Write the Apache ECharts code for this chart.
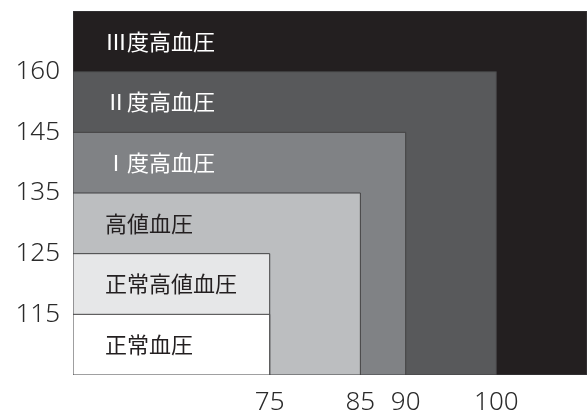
<!DOCTYPE html>
<html>
<head>
<meta charset="utf-8">
<script src="https://cdn.jsdelivr.net/npm/echarts@6/dist/echarts.min.js"></script>
<style>
html,body{margin:0;padding:0;background:#fff;}
#chart{width:587px;height:416px;}
</style>
</head>
<body>
<div id="chart"></div>
<script>
// Categories (drawn from outermost to innermost)
const categories = ['Ⅲ度高血圧', 'Ⅱ度高血圧', 'Ⅰ度高血圧', '高値血圧', '正常高値血圧', '正常血圧'];
// Diastolic upper limit of each class (null = open ended)
const diastolicLimits = [null, 100, 90, 85, 75, 75];
// Systolic tick labels (ordinal scale) and systolic upper limit of each class (null = open ended)
const systolicTicks = ['115', '125', '135', '145', '160'];
const systolicLimits = [null, '160', '145', '135', '125', '115'];
// X tick labels
const diastolicTicks = [75, 85, 90, 100];

// styles
const bandColors = ['#231f20', '#58595b', '#808285', '#bcbec0', '#e6e7e8', '#ffffff'];
const textColors = ['#ffffff', '#ffffff', '#ffffff', '#231f20', '#231f20', '#231f20'];

const X_MIN = 53.3, X_MAX = 110;
const Y_MIN = 0, Y_MAX = systolicTicks.length + 1;
const FONT = '"Noto Sans CJK JP", "Noto Sans", sans-serif';
const NUM_FONT = '"Noto Sans", "Open Sans", sans-serif';

const data = categories.map((c, i) => [
  diastolicLimits[i] == null ? X_MAX : diastolicLimits[i],
  systolicLimits[i] == null ? Y_MAX : systolicTicks.indexOf(systolicLimits[i]) + 1,
  i
]);

const chart = echarts.init(document.getElementById('chart'));
chart.setOption({
  animation: false,
  grid: { left: 73, right: 0, top: 11, bottom: 41, containLabel: false, outerBoundsMode: 'none' },
  xAxis: {
    type: 'value', min: X_MIN, max: X_MAX,
    splitLine: { show: false }, axisLine: { show: false }, axisTick: { show: false },
    axisLabel: {
      customValues: diastolicTicks,
      fontSize: 26, fontWeight: 300, color: '#2b2b2b', fontFamily: NUM_FONT, margin: 15
    }
  },
  yAxis: {
    type: 'value', min: Y_MIN, max: Y_MAX, interval: 1,
    splitLine: { show: false }, axisLine: { show: false }, axisTick: { show: false },
    axisLabel: {
      fontSize: 26, fontWeight: 300, color: '#2b2b2b', fontFamily: NUM_FONT, margin: 13,
      formatter: v => (v >= 1 && v <= systolicTicks.length) ? systolicTicks[v - 1] : ''
    }
  },
  series: [{
    type: 'custom',
    clip: true,
    data: data,
    renderItem: function (params, api) {
      const xr = api.value(0), yt = api.value(1), idx = api.value(2);
      const p0 = api.coord([X_MIN, Y_MIN]);
      const p1 = api.coord([xr, yt]);
      const ym = api.coord([X_MIN, yt - 0.5])[1];
      return {
        type: 'group',
        children: [{
          type: 'rect',
          shape: { x: p0[0], y: p1[1], width: p1[0] - p0[0], height: p0[1] - p1[1] },
          style: { fill: bandColors[idx], stroke: '#414042', lineWidth: 1 }
        }, {
          type: 'text',
          style: {
            text: categories[idx], x: p0[0] + 32, y: ym,
            verticalAlign: 'middle', align: 'left',
            fill: textColors[idx], fontSize: 22, fontFamily: FONT
          }
        }]
      };
    }
  }]
});
</script>
</body>
</html>
